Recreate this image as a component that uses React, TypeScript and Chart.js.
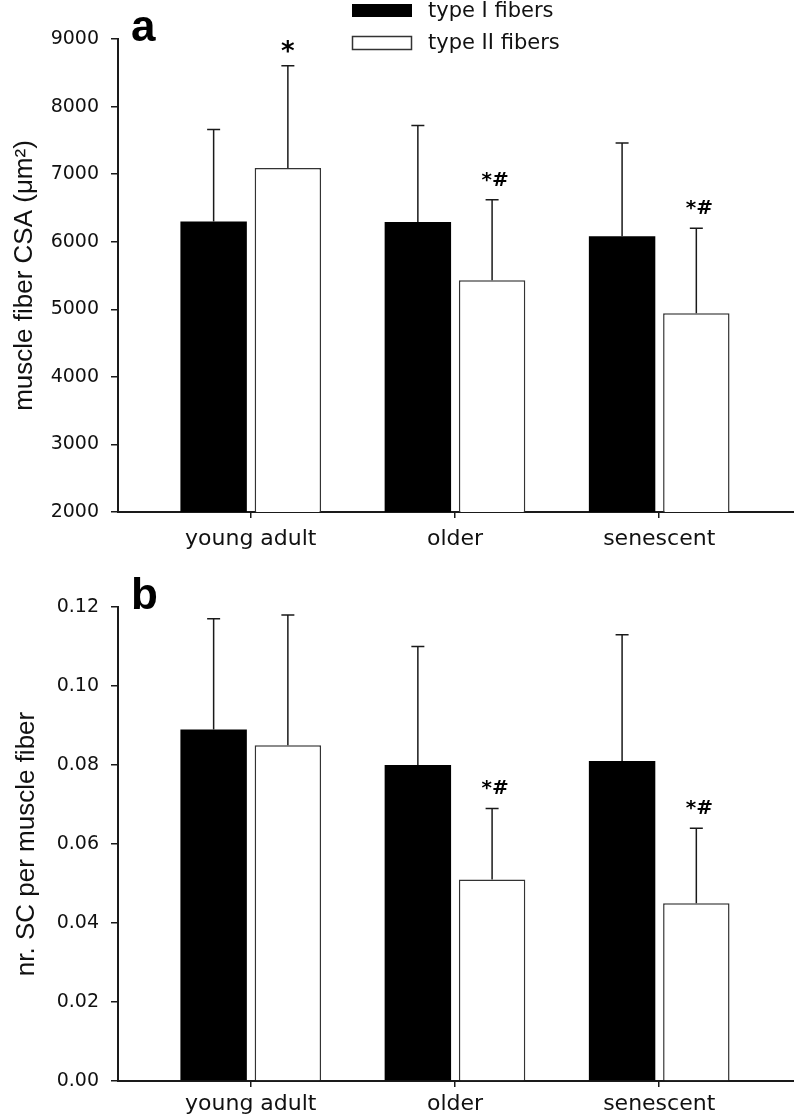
import React, { useEffect, useRef } from 'react';
import { Chart, registerables } from 'chart.js';

Chart.register(...registerables);

// ---------- data ----------
const categories = ['young adult', 'older', 'senescent'];
const seriesNames = ['type I fibers', 'type II fibers'];

// panel a: muscle fiber CSA (µm²)
const csaTypeI = [6300, 6290, 6080];
const csaTypeISD = [1360, 1430, 1380];
const csaTypeII = [7090, 5430, 4940];
const csaTypeIISD = [1515, 1190, 1260];
const csaMarksTypeII = ['*', '*#', '*#'];
const csaAxis = { min: 2000, max: 9000, step: 1000 };

// panel b: nr. SC per muscle fiber
const scTypeI = [0.089, 0.08, 0.081];
const scTypeISD = [0.028, 0.03, 0.032];
const scTypeII = [0.085, 0.051, 0.045];
const scTypeIISD = [0.033, 0.018, 0.019];
const scMarksTypeII = ['', '*#', '*#'];
const scAxis = { min: 0, max: 0.12, step: 0.02 };

// ---------- styling ----------
const SANS = "'DejaVu Sans', sans-serif";
const ARIAL = "'Liberation Sans', Arial, sans-serif";
const INK = '#1a1a1a';

type PanelSpec = {
  letter: string;
  title: string;
  typeI: number[];
  typeISD: number[];
  typeII: number[];
  typeIISD: number[];
  marks: string[];
  axis: { min: number; max: number; step: number };
  decimals: number;
  height: number;
  top: number;
  padTop: number;
  xAxisHeight: number;
  xLabelPad: number;
  titlePad: number;
  legend: boolean;
};

function makePlugin(spec: PanelSpec) {
  return {
    id: 'panelExtras' + spec.letter,
    afterDatasetsDraw(chart: any) {
      const ctx = chart.ctx as CanvasRenderingContext2D;
      const yScale = chart.scales.y;
      const area = chart.chartArea;
      const series = [
        { v: spec.typeI, sd: spec.typeISD },
        { v: spec.typeII, sd: spec.typeIISD },
      ];
      ctx.save();
      ctx.strokeStyle = INK;
      ctx.lineWidth = 1.5;
      series.forEach((s, di) => {
        const meta = chart.getDatasetMeta(di);
        meta.data.forEach((bar: any, i: number) => {
          const top = yScale.getPixelForValue(s.v[i] + s.sd[i]);
          ctx.beginPath();
          ctx.moveTo(bar.x, bar.y);
          ctx.lineTo(bar.x, top);
          ctx.moveTo(bar.x - 6.5, top);
          ctx.lineTo(bar.x + 6.5, top);
          ctx.stroke();
        });
      });
      // significance marks over type II bars
      const meta2 = chart.getDatasetMeta(1);
      ctx.fillStyle = '#000';
      ctx.textAlign = 'center';
      ctx.textBaseline = 'alphabetic';
      meta2.data.forEach((bar: any, i: number) => {
        const m = spec.marks[i];
        if (!m) return;
        const top = yScale.getPixelForValue(spec.typeII[i] + spec.typeIISD[i]);
        if (m === '*') {
          ctx.font = `bold 26px ${SANS}`;
          ctx.fillText(m, bar.x, top - 6);
        } else {
          ctx.font = `bold 20px ${SANS}`;
          ctx.fillText(m, bar.x + 3, top - 14);
        }
      });
      // panel letter
      ctx.textAlign = 'left';
      ctx.font = `bold 44px ${ARIAL}`;
      ctx.fillText(spec.letter, area.left + 13, area.top + 2);
      // legend
      if (spec.legend) {
        ctx.fillStyle = '#000';
        ctx.fillRect(352, 4, 60, 13);
        ctx.fillStyle = '#fff';
        ctx.fillRect(352.5, 36.5, 59, 13);
        ctx.strokeStyle = '#333';
        ctx.lineWidth = 1.5;
        ctx.strokeRect(352.5, 36.5, 59, 13);
        ctx.fillStyle = '#111';
        ctx.font = `21px ${SANS}`;
        ctx.fillText(seriesNames[0], 428, 16.5);
        ctx.fillText(seriesNames[1], 428, 48.5);
      }
      ctx.restore();
    },
  };
}

function Panel({ spec }: { spec: PanelSpec }) {
  const ref = useRef<HTMLCanvasElement | null>(null);
  useEffect(() => {
    if (!ref.current) return;
    const mk = (vals: number[]) => vals.map((y, i) => ({ x: i, y }));
    const chart = new Chart(ref.current, {
      type: 'bar',
      data: {
        datasets: [
          {
            label: seriesNames[0],
            data: mk(spec.typeI) as any,
            backgroundColor: '#000',
            borderColor: '#000',
            borderWidth: 0,
            categoryPercentage: 0.727,
            barPercentage: 0.895,
          },
          {
            label: seriesNames[1],
            data: mk(spec.typeII) as any,
            backgroundColor: '#fff',
            borderColor: '#333',
            borderWidth: 1.5,
            categoryPercentage: 0.727,
            barPercentage: 0.895,
          },
        ],
      },
      options: {
        animation: false,
        responsive: false,
        devicePixelRatio: 1,
        layout: { padding: { left: 8, top: spec.padTop, right: 0, bottom: 0 } },
        plugins: { legend: { display: false }, tooltip: { enabled: false } },
        scales: {
          x: {
            type: 'linear',
            min: -0.65,
            max: 2.66,
            offset: false,
            afterBuildTicks: (scale: any) => {
              scale.ticks = categories.map((_, i) => ({ value: i }));
            },
            afterFit: (scale: any) => {
              scale.height = spec.xAxisHeight;
            },
            grid: {
              display: true,
              drawOnChartArea: false,
              drawTicks: true,
              tickLength: 6,
              offset: false,
              color: INK,
              tickColor: INK,
              lineWidth: 1.5,
            },
            border: { display: true, color: INK, width: 2 },
            ticks: {
              autoSkip: false,
              maxRotation: 0,
              padding: spec.xLabelPad,
              color: '#111',
              font: { family: SANS, size: 22 },
              callback: (v: any) => categories[Math.round(Number(v))] ?? '',
            },
          },
          y: {
            type: 'linear',
            min: spec.axis.min,
            max: spec.axis.max,
            afterFit: (scale: any) => {
              scale.width = 110;
            },
            grid: {
              display: true,
              drawOnChartArea: false,
              drawTicks: true,
              tickLength: 7,
              color: INK,
              tickColor: INK,
              lineWidth: 1.5,
            },
            border: { display: true, color: INK, width: 2 },
            ticks: {
              stepSize: spec.axis.step,
              padding: 12,
              color: '#111',
              font: { family: SANS, size: 19 },
              callback: (v: any) => Number(v).toFixed(spec.decimals),
            },
            title: {
              display: true,
              text: spec.title,
              color: '#111',
              font: { family: ARIAL, size: 26 },
              padding: { top: spec.titlePad, bottom: 0 },
            },
          },
        },
      },
      plugins: [makePlugin(spec)],
    });
    return () => chart.destroy();
  }, [spec]);
  return (
    <canvas
      ref={ref}
      width={794}
      height={spec.height}
      style={{ position: 'absolute', left: 0, top: spec.top, width: 794, height: spec.height, display: 'block' }}
    />
  );
}

const panelA: PanelSpec = {
  letter: 'a',
  title: 'muscle fiber CSA (\u03bcm\u00b2)',
  typeI: csaTypeI,
  typeISD: csaTypeISD,
  typeII: csaTypeII,
  typeIISD: csaTypeIISD,
  marks: csaMarksTypeII,
  axis: csaAxis,
  decimals: 0,
  height: 560,
  top: 0,
  padTop: 39,
  xAxisHeight: 48,
  xLabelPad: 8,
  titlePad: 1,
  legend: true,
};

const panelB: PanelSpec = {
  letter: 'b',
  title: 'nr. SC per muscle fiber',
  typeI: scTypeI,
  typeISD: scTypeISD,
  typeII: scTypeII,
  typeIISD: scTypeIISD,
  marks: scMarksTypeII,
  axis: scAxis,
  decimals: 2,
  height: 559,
  top: 560,
  padTop: 47,
  xAxisHeight: 38,
  xLabelPad: 4,
  titlePad: 3,
  legend: false,
};

export default function App() {
  return (
    <div style={{ position: 'absolute', left: 0, top: 0, width: 794, height: 1119, background: '#fff' }}>
      <Panel spec={panelA} />
      <Panel spec={panelB} />
    </div>
  );
}
